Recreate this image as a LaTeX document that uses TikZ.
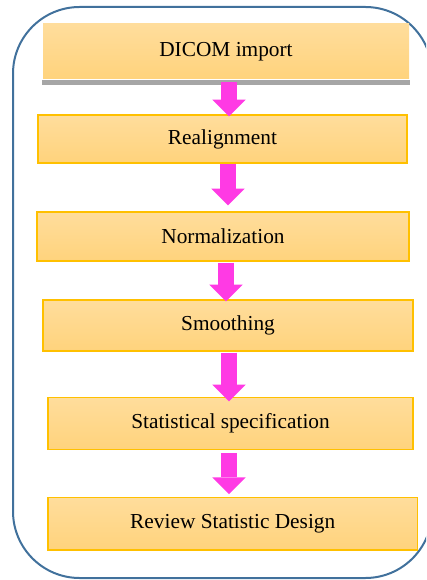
\documentclass[tikz,border=0pt]{standalone}
\usepackage{fontspec}
\setmainfont{Liberation Serif}
\usetikzlibrary{arrows.meta}
\definecolor{framecol}{RGB}{65,113,156}
\definecolor{boxtop}{RGB}{255,221,156}
\definecolor{boxbot}{RGB}{255,211,124}
\definecolor{boxline}{RGB}{255,192,0}
\definecolor{pushcol}{RGB}{255,58,228}
\definecolor{shadowcol}{RGB}{166,166,166}

\begin{document}
\begin{tikzpicture}[x=0.75pt, y=-0.75pt,
    stepbox/.style={top color=boxtop, bottom color=boxbot, draw=boxline, line width=1pt,
        inner sep=0pt, font=\fontsize{16}{19}\selectfont},
    flowarrow/.style={draw=pushcol, line width=12pt,
        -{Triangle[width=25pt,length=12.5pt,line width=0pt]}}]
        \clip (0,0) rectangle (426,580);

        % Draw the outer frame
        \draw[framecol, line width=1.5pt, rounded corners=50pt] (13,7) rectangle (432,578);

        % Draw the steps of the pipeline
        \node[stepbox, draw=none, minimum width=274.5pt, minimum height=41.25pt] (dicom) at (226,51.5) {DICOM import};
        \fill[shadowcol] (dicom.south west) rectangle ([yshift=-3.75pt]dicom.south east);
        \node[stepbox, minimum width=276.75pt, minimum height=36pt] (realign) at (222.5,139) {Realignment};
        \node[stepbox, minimum width=279pt, minimum height=36.75pt] (normal) at (223,236.5) {Normalization};
        \node[stepbox, minimum width=277.5pt, minimum height=38.25pt] (smooth) at (228,325.5) {Smoothing};
        \node[stepbox, minimum width=273.75pt, minimum height=39pt] (statspec) at (230.5,423.5) {Statistical specification};
        \node[stepbox, minimum width=277pt, minimum height=39.4pt] (review) at (232.75,523.75) {Review Statistic Design};

        % Draw the arrows between the steps
        \coordinate (col) at (229,0);
        \draw[flowarrow, shorten <=1.5pt, shorten >=-1.5pt] (dicom.south -| col) -- (realign.north -| col);
        \draw[flowarrow, shorten >=4.5pt] ([xshift=-0.75pt]realign.south -| col) -- ([xshift=-0.75pt]normal.north -| col);
        \draw[flowarrow, shorten <=0.75pt, shorten >=-1.5pt] ([xshift=-2.25pt]normal.south -| col) -- ([xshift=-2.25pt]smooth.north -| col);
        \draw[flowarrow, shorten <=0.75pt, shorten >=-3.4pt] (smooth.south -| col) -- (statspec.north -| col);
        \draw[flowarrow, shorten <=2pt, shorten >=2pt] (statspec.south -| col) -- (review.north -| col);
    \end{tikzpicture}
\end{document}
